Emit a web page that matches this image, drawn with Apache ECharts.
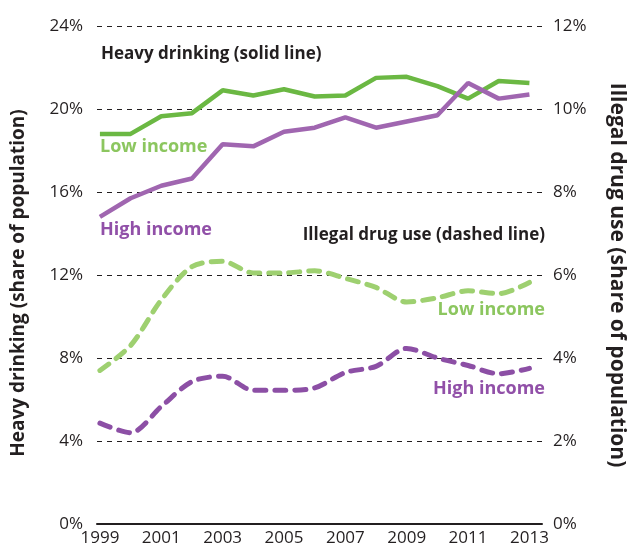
<!DOCTYPE html>
<html>
<head>
<meta charset="utf-8">
<script src="https://cdn.jsdelivr.net/npm/echarts@6/dist/echarts.min.js"></script>
<style>
  html, body { margin: 0; padding: 0; background: #fff; }
  #chart { width: 635px; height: 553px; }
</style>
</head>
<body>
<div id="chart"></div>
<script>
const years = [1999, 2000, 2001, 2002, 2003, 2004, 2005, 2006, 2007, 2008, 2009, 2010, 2011, 2012, 2013]
const yearLabels = [1999, 2001, 2003, 2005, 2007, 2009, 2011, 2013]

// heavy drinking, left axis (%)
const drinkLow = [18.8, 18.8, 19.65, 19.8, 20.9, 20.65, 20.95, 20.6, 20.65, 21.5, 21.55, 21.1, 20.5, 21.35, 21.25]
const drinkHigh = [14.8, 15.7, 16.3, 16.65, 18.3, 18.2, 18.9, 19.1, 19.6, 19.1, 19.4, 19.7, 21.25, 20.5, 20.7]

// illegal drug use, right axis (%)
const drugLow = [3.7, 4.3, 5.4, 6.2, 6.33, 6.05, 6.05, 6.1, 5.92, 5.7, 5.35, 5.45, 5.62, 5.55, 5.82]
const drugHigh = [2.43, 2.2, 2.83, 3.43, 3.56, 3.22, 3.22, 3.28, 3.65, 3.8, 4.23, 4.0, 3.82, 3.62, 3.75]

const font = "'Open Sans', 'Noto Sans', sans-serif"
const ink = "#231f20"
const green = "#6bb843"
const lightGreen = "#9ed070"
const purple = "#a066b0"
const darkPurple = "#8c4fa5"

const pairs = (vals) => years.map((y, i) => [y, vals[i]])

const chart = echarts.init(document.getElementById("chart"), null, { renderer: "canvas" })

chart.setOption({
    animation: false,
    grid: { left: 97, right: 82, top: 26, bottom: 29 },
    xAxis: {
        type: "value",
        min: 1998.905,
        max: 2013.41,
        z: 5,
        axisLine: { show: true, onZero: false, lineStyle: { color: ink, width: 2 } },
        axisTick: { show: false },
        splitLine: { show: false },
        axisLabel: {
            customValues: yearLabels,
            formatter: (v) => String(v),
            color: ink,
            fontFamily: font,
            fontSize: 17,
            margin: 6
        }
    },
    yAxis: [
        {
            type: "value",
            min: 0,
            max: 24,
            interval: 4,
            name: "Heavy drinking (share of population)",
            nameLocation: "middle",
            nameGap: 69,
            nameTextStyle: { fontFamily: font, fontWeight: "bold", fontSize: 19, color: ink, padding: [0, 0, 0, -16] },
            axisLine: { show: false },
            axisTick: { show: false },
            axisLabel: { formatter: "{value}%", color: ink, fontFamily: font, fontSize: 17, margin: 14 },
            splitLine: { show: true, lineStyle: { color: ink, type: [5, 5], width: 1 } }
        },
        {
            type: "value",
            min: 0,
            max: 12,
            interval: 2,
            name: "Illegal drug use (share of population)",
            nameLocation: "middle",
            nameGap: 64,
            nameRotate: -90,
            nameTextStyle: { fontFamily: font, fontWeight: "bold", fontSize: 21, color: ink },
            axisLine: { show: false },
            axisTick: { show: false },
            axisLabel: { formatter: "{value}%", color: ink, fontFamily: font, fontSize: 17, margin: 11 },
            splitLine: { show: false }
        }
    ],
    series: [
        {
            name: "Heavy drinking, low income",
            type: "line",
            yAxisIndex: 0,
            data: pairs(drinkLow),
            showSymbol: false,
            lineStyle: { color: green, width: 4.5 },
            z: 3
        },
        {
            name: "Heavy drinking, high income",
            type: "line",
            yAxisIndex: 0,
            data: pairs(drinkHigh),
            showSymbol: false,
            lineStyle: { color: purple, width: 4.5 },
            z: 4
        },
        {
            name: "Drug use, low income",
            type: "line",
            yAxisIndex: 1,
            data: pairs(drugLow),
            showSymbol: false,
            smooth: 0.3,
            lineStyle: { color: lightGreen, width: 5, type: [11, 9], cap: "round" }
        },
        {
            name: "Drug use, high income",
            type: "line",
            yAxisIndex: 1,
            data: pairs(drugHigh),
            showSymbol: false,
            smooth: 0.3,
            lineStyle: { color: darkPurple, width: 5, type: [11, 9], cap: "round" }
        }
    ],
    graphic: [
        { type: "text", left: 101, top: 46, style: { text: "Heavy drinking (solid line)", fill: ink, font: "bold 17px " + font } },
        { type: "text", left: 100, top: 138, style: { text: "Low income", fill: "#8cc65f", font: "bold 18px " + font } },
        { type: "text", left: 100, top: 221, style: { text: "High income", fill: "#9150a8", font: "bold 18px " + font } },
        { type: "text", right: 90, top: 227, style: { text: "Illegal drug use (dashed line)", fill: ink, font: "bold 17px " + font } },
        { type: "text", right: 90, top: 301, style: { text: "Low income", fill: "#8cc65f", font: "bold 18px " + font } },
        { type: "text", right: 90, top: 380, style: { text: "High income", fill: "#9150a8", font: "bold 18px " + font } }
    ]
})
</script>
</body>
</html>
